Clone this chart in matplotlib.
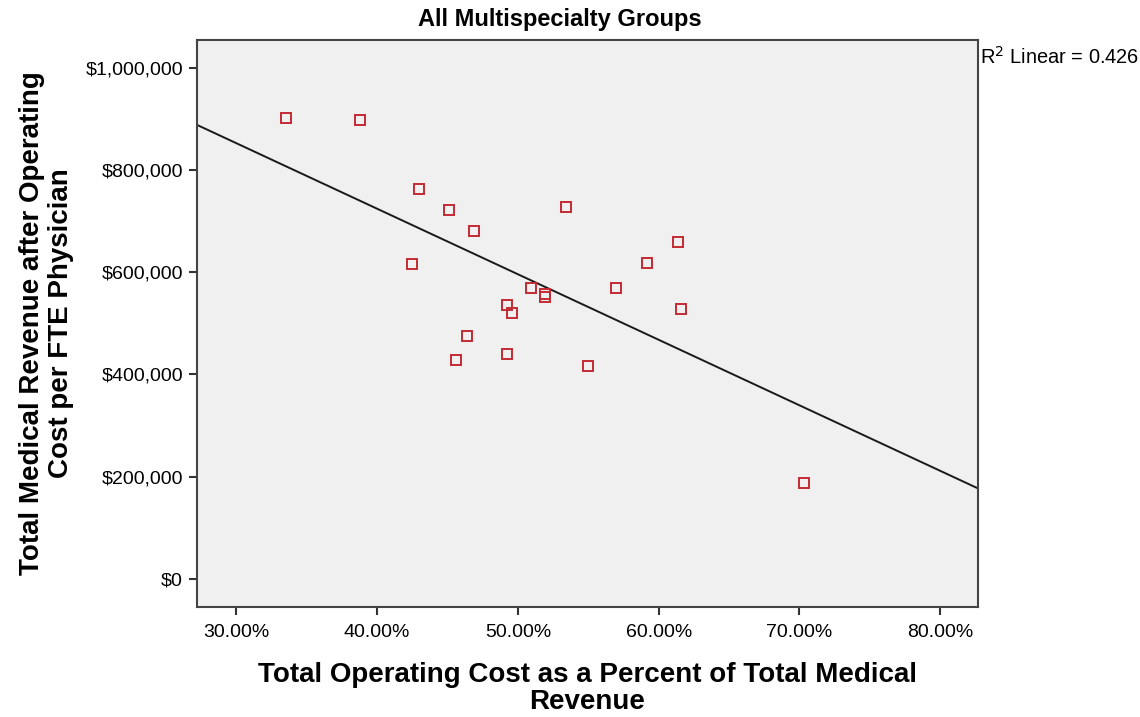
"""Scatter of operating cost share vs revenue per FTE physician, with linear fit."""

import matplotlib

matplotlib.use("Agg")
import matplotlib.pyplot as plt
import numpy as np
from matplotlib.ticker import FuncFormatter

plt.rcParams["font.family"] = ["Liberation Sans", "DejaVu Sans"]

# operating cost as % of total medical revenue
cost_pct = [33.5, 38.8, 43.0, 45.1, 46.9, 42.5, 53.4, 61.4, 59.2, 57.0, 61.6,
            50.9, 51.9, 51.9, 49.2, 49.6, 46.4, 45.6, 49.2, 55.0, 70.3]
# revenue after operating cost per FTE physician ($)
revenue = [902000, 898000, 762000, 721000, 680000, 615000, 728000, 658000,
           617000, 568000, 527000, 568000, 558000, 551000, 535000, 521000,
           475000, 428000, 439000, 416000, 187000]

x_ticks = [30, 40, 50, 60, 70, 80]
y_ticks = [0, 200000, 400000, 600000, 800000, 1000000]
x_lim = (27.2, 82.7)
y_lim = (-55000, 1054000)

fig = plt.figure(figsize=(11.4, 7.17), dpi=100)
ax = fig.add_axes([0.1728, 0.1534, 0.6852, 0.7908])
ax.set_facecolor("#F0F0F0")

x = np.array(cost_pct)
y = np.array(revenue)
slope, intercept = np.polyfit(x, y, 1)
xx = np.array(x_lim)
ax.plot(xx, slope * xx + intercept, color="#1a1a1a", lw=1.4, zorder=2)
ax.plot(x, y, linestyle="none", marker="s", markersize=7.5, markerfacecolor="none",
        markeredgecolor="#C42A32", markeredgewidth=1.4, zorder=3)

ax.set_xlim(*x_lim)
ax.set_ylim(*y_lim)
ax.set_xticks(x_ticks)
ax.set_yticks(y_ticks)
ax.xaxis.set_major_formatter(FuncFormatter(lambda v, _: f"{v:.2f}%"))
ax.yaxis.set_major_formatter(FuncFormatter(lambda v, _: f"${v:,.0f}"))
ax.tick_params(axis="both", labelsize=14, length=6, width=1.5, color="#333333", pad=4)
ax.tick_params(axis="x", pad=6)
for s in ax.spines.values():
    s.set_color("#444444")
    s.set_linewidth(1.5)

fig.text(0.491, 0.973, "All Multispecialty Groups", fontsize=17, fontweight="bold",
         ha="center", va="center")
ax.set_xlabel("Total Operating Cost as a Percent of Total Medical\nRevenue",
              fontsize=20, fontweight="bold", labelpad=15, linespacing=1.05)
ax.set_ylabel("Total Medical Revenue after Operating\nCost per FTE Physician",
              fontsize=20, fontweight="bold", labelpad=8, linespacing=1.15)

ax.text(1.002, 0.97, "R$^2$ Linear = 0.426", transform=ax.transAxes,
        fontsize=14.4, ha="left", va="center")

fig.savefig("out.png", dpi=100)
